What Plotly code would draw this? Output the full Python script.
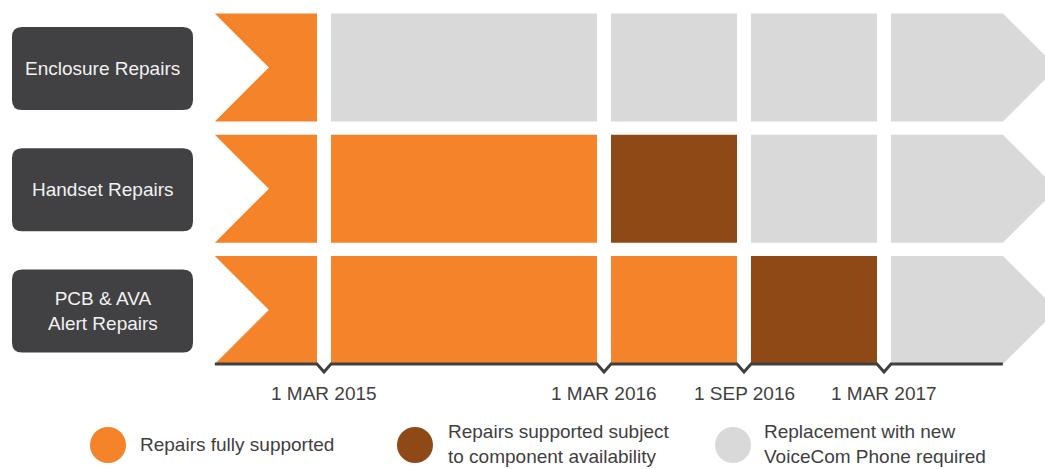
import plotly.graph_objects as go
import pandas as pd

# ---------------- data ----------------
rows = ["Enclosure Repairs", "Handset Repairs", "PCB & AVA<br>Alert Repairs"]
milestone_labels = ["1 MAR 2015", "1 MAR 2016", "1 SEP 2016", "1 MAR 2017"]
milestone_dates = ["2015-03-01", "2016-03-01", "2016-09-01", "2017-03-01"]
timeline_start = "2014-10-11"
timeline_end = "2017-08-04"
# status per period: before Mar15, Mar15-Mar16, Mar16-Sep16, Sep16-Mar17, after Mar17
enclosure_status = ["full", "replace", "replace", "replace", "replace"]
handset_status = ["full", "full", "component", "replace", "replace"]
pcb_status = ["full", "full", "full", "component", "replace"]
row_status = [enclosure_status, handset_status, pcb_status]
legend_keys = ["full", "component", "replace"]
legend_labels = ["Repairs fully supported",
                 "Repairs supported subject<br>to component availability",
                 "Replacement with new<br>VoiceCom Phone required"]
colors = {"full": "#F4832A", "component": "#8E4917", "replace": "#D9D9D9"}

# ---------------- layout constants ----------------
W, H = 1045, 469
FONT = "Liberation Sans, Arial, sans-serif"
TEXT = "#3F3F3F"
BOX = "#414042"
PPM = 280 / 12          # pixels per month
REF_M, REF_PX = 2, 324  # month index 2 (Mar 2015) sits at this pixel
ROW_C0, ROW_STEP, ROW_HALF = 67.5, 121.25, 54
GAP = 7 / PPM
DEPTH = 54 / PPM
AXIS_Y, V_DEPTH, LABEL_Y = 364, 8, 393


def month_index(d):
    t = pd.Timestamp(d)
    return (t.year - 2015) * 12 + (t.month - 1) + (t.day - 1) / t.days_in_month


bounds = [month_index(d) for d in milestone_dates]
t0, t1 = month_index(timeline_start), month_index(timeline_end)
edges = [t0] + bounds + [t1]

fig = go.Figure()

for i, statuses in enumerate(row_status):
    yc = ROW_C0 + i * ROW_STEP
    top, bot = yc - ROW_HALF, yc + ROW_HALF
    n = len(statuses)
    for k, st in enumerate(statuses):
        a, b = edges[k], edges[k + 1]
        if k == 0:
            xs = [a, b - GAP, b - GAP, a, a + DEPTH, a]
            ys = [top, top, bot, bot, yc, top]
        elif k == n - 1:
            tip = ROW_HALF / PPM
            xs = [a + GAP, b, b + tip, b, a + GAP, a + GAP]
            ys = [top, top, yc, bot, bot, top]
        else:
            xs = [a + GAP, b - GAP, b - GAP, a + GAP, a + GAP]
            ys = [top, top, bot, bot, top]
        fig.add_trace(go.Scatter(x=xs, y=ys, fill="toself", mode="lines",
                                 line=dict(width=0), fillcolor=colors[st],
                                 hoverinfo="skip", showlegend=False))

# timeline axis line with V notches
lx, ly = [t0], [AXIS_Y]
for m in bounds:
    lx += [m - GAP, m, m + GAP]
    ly += [AXIS_Y, AXIS_Y + V_DEPTH, AXIS_Y]
lx.append(t1)
ly.append(AXIS_Y)
fig.add_trace(go.Scatter(x=lx, y=ly, mode="lines",
                         line=dict(color="#404040", width=3),
                         hoverinfo="skip", showlegend=False))

for m, lab in zip(bounds, milestone_labels):
    fig.add_annotation(x=m, y=LABEL_Y, xref="x", yref="y", text=lab,
                       showarrow=False, font=dict(family=FONT, size=19, color=TEXT))

# row label boxes
BX0, BX1, BHALF, R = 12, 193, 41.5, 10
for i, name in enumerate(rows):
    yc = ROW_C0 + i * ROW_STEP + 1
    y0, y1 = yc - BHALF, yc + BHALF
    path = (f"M {BX0+R},{y0} L {BX1-R},{y0} Q {BX1},{y0} {BX1},{y0+R} "
            f"L {BX1},{y1-R} Q {BX1},{y1} {BX1-R},{y1} L {BX0+R},{y1} "
            f"Q {BX0},{y1} {BX0},{y1-R} L {BX0},{y0+R} Q {BX0},{y0} {BX0+R},{y0} Z")
    fig.add_shape(type="path", path=path, xref="x2", yref="y",
                  fillcolor=BOX, line=dict(width=0), layer="above")
    fig.add_annotation(x=(BX0 + BX1) / 2, y=yc, xref="x2", yref="y", text=name,
                       showarrow=False, font=dict(family=FONT, size=19, color="#F2F2F2"))

# legend
LEG_X = [108, 415, 733]
LEG_TX = [138, 446, 762]
LEG_Y = 445
fig.add_trace(go.Scatter(x=LEG_X, y=[LEG_Y] * 3, xaxis="x2", yaxis="y", mode="markers",
                         marker=dict(size=36, color=[colors[k] for k in legend_keys],
                                     line=dict(width=0)),
                         hoverinfo="skip", showlegend=False))
for tx, lab in zip(LEG_TX, legend_labels):
    fig.add_annotation(x=tx, y=LEG_Y - 1, xref="x2", yref="y", text=lab, xanchor="left",
                       align="left", showarrow=False,
                       font=dict(family=FONT, size=19, color=TEXT))

fig.update_layout(
    width=W, height=H,
    margin=dict(l=0, r=0, t=0, b=0),
    paper_bgcolor="white", plot_bgcolor="white",
    xaxis=dict(range=[REF_M - REF_PX / PPM, REF_M + (W - REF_PX) / PPM],
               visible=False, fixedrange=True),
    xaxis2=dict(range=[0, W], overlaying="x", visible=False, fixedrange=True),
    yaxis=dict(range=[H, 0], visible=False, fixedrange=True),
    showlegend=False,
)

fig.write_html("out.html", config={"displayModeBar": False},
               post_script="document.body.style.margin='0';document.body.style.overflow='hidden';")
